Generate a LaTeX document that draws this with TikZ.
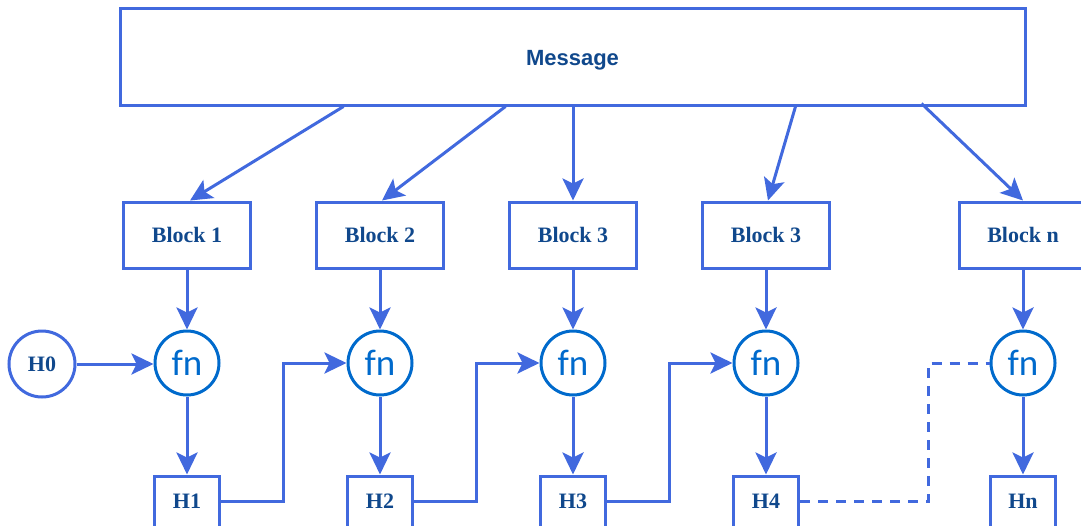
\documentclass[tikz,border=0pt]{standalone}
\usepackage{fontspec}
\setmainfont{Liberation Serif}
\newfontfamily\msgfont{Liberation Sans}
\newfontfamily\fnfont{Carlito}
\usetikzlibrary{arrows.meta,calc}
\definecolor{edgeblue}{RGB}{65,105,222}
\definecolor{ringblue}{RGB}{0,106,204}
\definecolor{labelblue}{RGB}{16,72,140}

\begin{document}
\begin{tikzpicture}[x=1pt,y=-1pt,
  link/.style={draw=edgeblue,line width=3pt,-{Stealth[length=22pt,width=21pt,inset=5pt]}},
  dashlink/.style={draw=edgeblue,line width=3pt,dash pattern=on 10pt off 8pt},
  msgbox/.style={draw=edgeblue,line width=3pt,minimum width=905pt,minimum height=97pt,inner sep=0pt,
    text height=17pt,text depth=0pt,
    font=\msgfont\fontsize{22}{26}\selectfont\bfseries,text=labelblue},
  blockbox/.style={draw=edgeblue,line width=3pt,minimum width=127pt,minimum height=66pt,inner sep=0pt,
    font=\fontsize{22}{26}\selectfont\bfseries,text=labelblue},
  hbox/.style={draw=edgeblue,line width=3pt,minimum width=65pt,minimum height=51pt,inner sep=0pt,
    font=\fontsize{22}{26}\selectfont\bfseries,text=labelblue},
  fnring/.style={circle,draw=ringblue,line width=3pt,minimum size=64pt,inner sep=0pt,
    font=\fnfont\fontsize{37}{40}\selectfont,text=ringblue},
  hring/.style={circle,draw=edgeblue,line width=3pt,minimum size=66pt,inner sep=0pt,
    font=\fontsize{22}{26}\selectfont\bfseries,text=labelblue}
]
\useasboundingbox (0,0) rectangle (1081,525);
\clip (0,0) rectangle (1081,525);

% message
\node[msgbox] (msg) at (572.5,56.5) {Message};

% blocks
\node[blockbox] (b1) at (187,235) {Block 1};
\node[blockbox] (b2) at (380,235) {Block 2};
\node[blockbox] (b3) at (573,235) {Block 3};
\node[blockbox] (b4) at (766,235) {Block 3};
\node[blockbox] (bn) at (1023,235) {Block n};

% functions
\node[hring] (h0) at (42,364) {H0};
\node[fnring] (fn1) at (187,363) {fn};
\node[fnring] (fn2) at (380,363) {fn};
\node[fnring] (fn3) at (573,363) {fn};
\node[fnring] (fn4) at (766,363) {fn};
\node[fnring] (fnn) at (1023,363) {fn};

% hidden states
\node[hbox] (h1) at (187,501.5) {H1};
\node[hbox] (h2) at (380,501.5) {H2};
\node[hbox] (h3) at (573,501.5) {H3};
\node[hbox] (h4) at (766,501.5) {H4};
\node[hbox] (hn) at (1023,501.5) {Hn};

% message split into blocks
\draw[link] ([xshift=225pt]msg.south west) -- ([xshift=3pt]b1.north);
\draw[link] ([xshift=387pt]msg.south west) -- ([xshift=2pt]b2.north);
\draw[link] (b3.north |- msg.south) -- (b3.north);
\draw[link] ([xshift=677pt]msg.south west) -- ([xshift=2pt]b4.north);
\draw[link] ([xshift=803pt,yshift=3pt]msg.south west) -- (bn.north);

% blocks into functions, functions into states
\foreach \i in {1,2,3,4,n} {
  \draw[link] (b\i.south) -- (fn\i.north);
  \draw[link] (fn\i.south) -- (h\i.north);
}
\draw[link] (h0.east) -- (h0.east -| fn1.west);

% state chaining
\foreach \a/\b in {1/2,2/3,3/4} {
  \coordinate (m\a) at ($(h\a.east)!.5!(fn\b.west)$);
  \draw[link] (h\a.east) -- (h\a.east -| m\a) -- (m\a |- fn\b.west) -- (fn\b.west);
}
\coordinate (dn) at (928,430);
\draw[dashlink] (h4.east) -| (dn) |- (fnn.west);
\end{tikzpicture}
\end{document}
